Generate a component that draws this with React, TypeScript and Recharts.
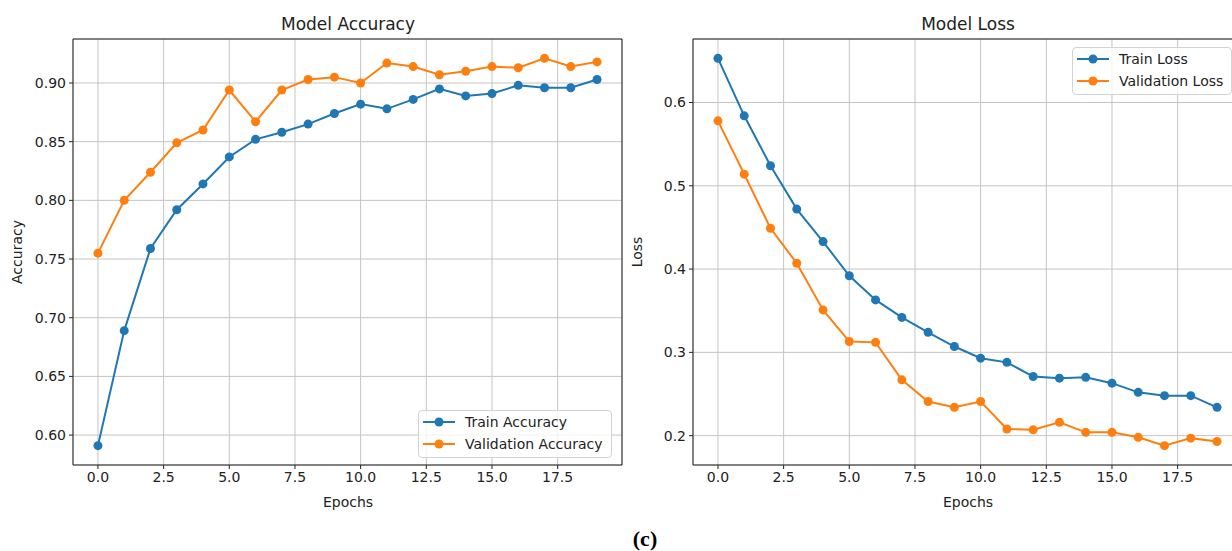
import { LineChart, Line, XAxis, YAxis, CartesianGrid, ReferenceArea, Legend } from "recharts";

const epochs = [0, 1, 2, 3, 4, 5, 6, 7, 8, 9, 10, 11, 12, 13, 14, 15, 16, 17, 18, 19];

const trainAcc = [0.591, 0.689, 0.759, 0.792, 0.814, 0.837, 0.852, 0.858, 0.865, 0.874, 0.882, 0.878, 0.886, 0.895, 0.889, 0.891, 0.898, 0.896, 0.896, 0.903];
const valAcc = [0.755, 0.8, 0.824, 0.849, 0.86, 0.894, 0.867, 0.894, 0.903, 0.905, 0.9, 0.917, 0.914, 0.907, 0.91, 0.914, 0.913, 0.921, 0.914, 0.918];

const trainLoss = [0.653, 0.584, 0.524, 0.472, 0.433, 0.392, 0.363, 0.342, 0.324, 0.307, 0.293, 0.288, 0.271, 0.269, 0.27, 0.263, 0.252, 0.248, 0.248, 0.234];
const valLoss = [0.578, 0.514, 0.449, 0.407, 0.351, 0.313, 0.312, 0.267, 0.241, 0.234, 0.241, 0.208, 0.207, 0.216, 0.204, 0.204, 0.198, 0.188, 0.197, 0.193];

const xTicks = [0, 2.5, 5, 7.5, 10, 12.5, 15, 17.5];
const accTicks = [0.6, 0.65, 0.7, 0.75, 0.8, 0.85, 0.9];
const lossTicks = [0.2, 0.3, 0.4, 0.5, 0.6];

const BLUE = "#1f77b4";
const ORANGE = "#ff7f0e";
const INK = "#222";
const FONT = "'DejaVu Sans', sans-serif";

// matplotlib style 5% margins
const pad = (a: number[], b: number[]): [number, number] => {
  const lo = Math.min(...a, ...b);
  const hi = Math.max(...a, ...b);
  const m = (hi - lo) * 0.05;
  return [lo - m, hi + m];
};
const xDomain: [number, number] = [-0.95, 19.95];

type PanelProps = {
  left: number;
  title: string;
  yLabel: string;
  train: number[];
  val: number[];
  names: [string, string];
  yTicks: number[];
  digits: number;
  legendPos: { left: number; top: number };
};

const LegendBox = ({ names }: { names: [string, string] }) => (
  <div
    style={{
      border: "1px solid #d3d3d3",
      borderRadius: 4,
      background: "rgba(255,255,255,0.8)",
      padding: "0 8px 2px 4px",
      fontFamily: FONT,
      fontSize: 14,
      color: INK,
    }}
  >
    {names.map((n, i) => (
      <div key={n} style={{ display: "flex", alignItems: "center", height: 22 }}>
        <svg width={32} height={12} style={{ marginRight: 10 }}>
          <line x1={0} y1={6} x2={32} y2={6} stroke={i === 0 ? BLUE : ORANGE} strokeWidth={2} />
          <circle cx={16} cy={6} r={4.5} fill={i === 0 ? BLUE : ORANGE} />
        </svg>
        <span style={{ whiteSpace: "nowrap" }}>{n}</span>
      </div>
    ))}
  </div>
);

const Panel = ({ left, title, yLabel, train, val, names, yTicks, digits, legendPos }: PanelProps) => {
  const data = epochs.map((e, i) => ({ epoch: e, train: train[i], val: val[i] }));
  const yDomain = pad(train, val);
  const plotLeft = left + 73;
  const plotCenter = plotLeft + 275;
  return (
    <>
      <div style={{ position: "absolute", left, top: 0 }}>
        <LineChart width={640} height={551} data={data} margin={{ top: 39, right: 18, bottom: 0, left: 13 }}>
          <CartesianGrid stroke="#c4c4c4" strokeWidth={1} />
          <XAxis
            dataKey="epoch"
            type="number"
            domain={xDomain}
            allowDataOverflow
            ticks={xTicks}
            interval={0}
            tickFormatter={(v: number) => v.toFixed(1)}
            height={86}
            axisLine={false}
            tickLine={{ stroke: INK }}
            tickSize={4}
            tickMargin={3}
            tick={{ fill: INK, fontSize: 14, fontFamily: FONT }}
          />
          <YAxis
            type="number"
            domain={yDomain}
            allowDataOverflow
            ticks={yTicks}
            interval={0}
            tickFormatter={(v: number) => v.toFixed(digits)}
            width={60}
            axisLine={false}
            tickLine={{ stroke: INK }}
            tickSize={4}
            tickMargin={3}
            tick={{ fill: INK, fontSize: 14, fontFamily: FONT }}
          />
          <ReferenceArea
            x1={xDomain[0]}
            x2={xDomain[1]}
            y1={yDomain[0]}
            y2={yDomain[1]}
            fill="none"
            fillOpacity={0}
            stroke={INK}
            strokeWidth={1}
            ifOverflow="visible"
          />
          <Line
            dataKey="train"
            stroke={BLUE}
            strokeWidth={2}
            dot={{ r: 4.5, fill: BLUE, stroke: BLUE, strokeWidth: 0 }}
            activeDot={false}
            isAnimationActive={false}
          />
          <Line
            dataKey="val"
            stroke={ORANGE}
            strokeWidth={2}
            dot={{ r: 4.5, fill: ORANGE, stroke: ORANGE, strokeWidth: 0 }}
            activeDot={false}
            isAnimationActive={false}
          />
          <Legend
            layout="horizontal"
            verticalAlign="middle"
            align="center"
            content={() => <LegendBox names={names} />}
            wrapperStyle={{ left: legendPos.left, top: legendPos.top, width: "auto", height: "auto" }}
          />
        </LineChart>
      </div>
      <div
        style={{
          position: "absolute",
          left: plotCenter,
          top: 24,
          transform: "translate(-50%, -50%)",
          fontSize: 17,
          color: INK,
          whiteSpace: "nowrap",
        }}
      >
        {title}
      </div>
      <div
        style={{
          position: "absolute",
          left: plotCenter,
          top: 502,
          transform: "translate(-50%, -50%)",
          fontSize: 14,
          color: INK,
        }}
      >
        Epochs
      </div>
      <div
        style={{
          position: "absolute",
          left: left + 17,
          top: 252,
          transform: "translate(-50%, -50%) rotate(-90deg)",
          fontSize: 14,
          color: INK,
        }}
      >
        {yLabel}
      </div>
    </>
  );
};

export default function App() {
  return (
    <div
      style={{
        position: "absolute",
        left: 0,
        top: 0,
        width: 1232,
        height: 551,
        overflow: "hidden",
        background: "#fff",
        fontFamily: FONT,
      }}
    >
      <Panel
        left={0}
        title="Model Accuracy"
        yLabel="Accuracy"
        train={trainAcc}
        val={valAcc}
        names={["Train Accuracy", "Validation Accuracy"]}
        yTicks={accTicks}
        digits={2}
        legendPos={{ left: 418, top: 410 }}
      />
      <Panel
        left={620}
        title="Model Loss"
        yLabel="Loss"
        train={trainLoss}
        val={valLoss}
        names={["Train Loss", "Validation Loss"]}
        yTicks={lossTicks}
        digits={1}
        legendPos={{ left: 452, top: 47 }}
      />
      <div
        style={{
          position: "absolute",
          left: 645,
          top: 539,
          transform: "translate(-50%, -50%)",
          fontFamily: "'Liberation Serif', serif",
          fontWeight: "bold",
          fontSize: 22,
          lineHeight: 1,
          color: "#000",
        }}
      >
        (c)
      </div>
    </div>
  );
}
